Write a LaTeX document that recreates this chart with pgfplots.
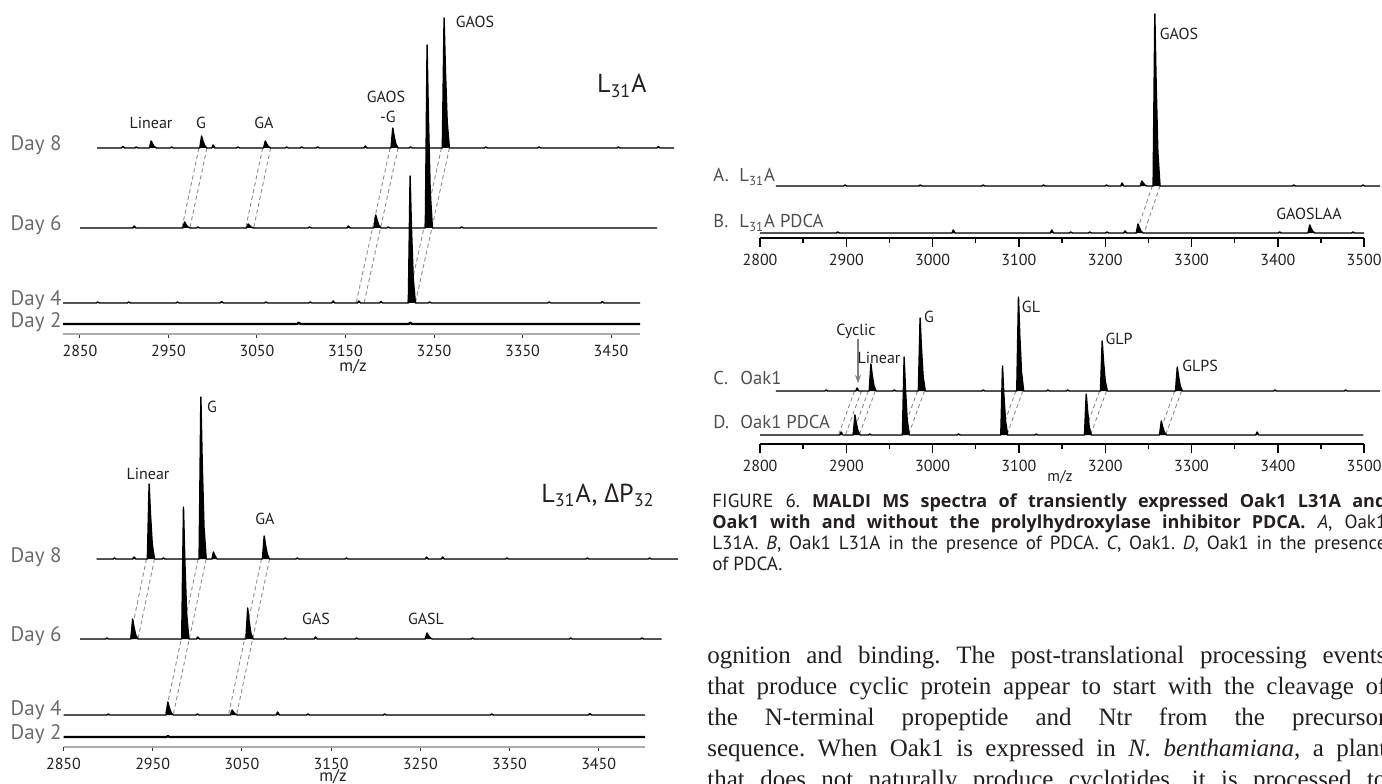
\documentclass[border=0pt]{standalone}
\usepackage{fontspec}
\setmainfont{Liberation Serif}
\setsansfont{PT Sans}
\newfontfamily\grk{Open Sans}
\newfontfamily\capbf{Open Sans}
\usepackage{pgfplots}
\pgfplotsset{compat=1.18}
\usetikzlibrary{arrows.meta}
\definecolor{daygray}{HTML}{6B6B6B}
\definecolor{labgray}{HTML}{4F4F4F}
\definecolor{guidegray}{HTML}{8C8C8C}
\definecolor{ink}{HTML}{231F20}
\frenchspacing

\pgfplotsset{
  spec/.style={clip=false, anchor=south west, hide y axis, axis x line*=bottom,
    ymin=0, ymax=10, y=0.5pt, enlargelimits=false, xtick align=outside,
    /pgf/number format/1000 sep={}, /pgf/number format/assume math mode=true,
    xticklabel style={font=\sffamily\fontsize{8}{9}\selectfont, text=ink}},
  leftax/.style={spec, x axis line style={gray!65, line width=1.3pt},
    major tick length=2pt, xtick style={black!80, line width=0.5pt},
    xtick={2850,2950,...,3450}, xticklabel style={yshift=0pt}},
  rightax/.style={spec, x axis line style={black, line width=0.7pt},
    major tick length=4.5pt, minor tick length=2.5pt, xtick style={black, line width=0.7pt},
    xmin=2800, xmax=3500, x=0.4315pt,
    xtick={2800,2900,...,3500}, minor xtick={2850,2950,...,3450}},
  trace/.style={fill=black, draw=black, line width=0.7pt, line join=round, mark=none},
  guide/.style={draw=guidegray, line width=0.45pt, dash pattern=on 2pt off 1.5pt,
    mark=none, unbounded coords=jump},
  offs/.style 2 args={x filter/.expression={x+#1}, y filter/.expression={y+#2}},
}

\begin{document}
\begin{tikzpicture}
\useasboundingbox (0,0) rectangle (691pt,391.5pt);

% ---------- left top: L31A ----------
\begin{axis}[leftax, at={(31.5pt,224.5pt)}, xmin=2830.8, xmax=3482.8, x=0.4425pt]
\addplot[guide] coordinates {(2984.4,186)(2965.2,106)(2965.2,nan)(2993.4,186)(2974.2,106)(2974.2,nan)
  (3056.4,186)(3037.2,106)(3037.2,nan)(3065.4,186)(3046.2,106)(3046.2,nan)
  (3200.4,186)(3162,31)(3162,nan)(3209.4,186)(3171,31)(3171,nan)
  (3258.4,186)(3220,31)(3220,nan)(3267.4,186)(3229,31)};
% Day 8
\addplot[trace, offs={38.4}{186}] coordinates {(2831,0)
  (2858.5,0)(2860,1.5)(2862,0) (2873.5,0)(2875,1)(2877,0)
  (2890,0)(2892,7)(2893.5,4.2)(2895.5,1.4)(2898,0)
  (2913.5,0)(2915,1)(2917,0)
  (2947,0)(2949,12)(2950.5,7.2)(2952.5,2.4)(2955,0)
  (2960.5,0)(2962,3)(2964,0) (2988.5,0)(2990,1)(2992,0)
  (3019,0)(3021,7)(3022.5,4.2)(3024.5,1.4)(3027,0)
  (3043.5,0)(3045,1)(3047,0) (3060.5,0)(3062,1)(3064,0) (3078.5,0)(3080,1)(3082,0)
  (3132.5,0)(3134,2)(3136,0)
  (3163,0)(3165,20)(3166.5,12)(3168.5,4)(3171,0)
  (3183.5,0)(3185,1)(3187,0)
  (3221,0)(3223,130)(3224.5,78)(3226.5,26)(3229,0)
  (3268.5,0)(3270,1)(3272,0) (3328.5,0)(3330,1)(3332,0) (3418.5,0)(3420,1)(3422,0)
  (3463.5,0)(3465,1.5)(3467,0) (3483,0)};
% Day 6
\addplot[trace, offs={19.2}{106}] coordinates {(2831,0)
  (2890.5,0)(2892,2)(2894,0)
  (2947,0)(2949,6)(2950.5,3.6)(2952.5,1.2)(2955,0)
  (2962.5,0)(2964,1)(2966,0)
  (3019,0)(3021,4)(3022.5,2.4)(3024.5,0.8)(3027,0)
  (3088.5,0)(3090,1)(3092,0) (3132.5,0)(3134,2)(3136,0)
  (3163,0)(3165,13)(3166.5,7.8)(3168.5,2.6)(3171,0)
  (3177.5,0)(3179,1)(3181,0)
  (3221,0)(3223,183)(3224.5,110)(3226.5,37)(3229,0)
  (3260.5,0)(3262,1)(3264,0) (3483,0)};
% Day 4
\addplot[trace, offs={0}{31}] coordinates {(2831,0)
  (2868.5,0)(2870,1)(2872,0) (2903.5,0)(2905,1)(2907,0) (2958.5,0)(2960,1)(2962,0)
  (3008.5,0)(3010,1.5)(3012,0) (3058.5,0)(3060,1)(3062,0) (3108.5,0)(3110,1)(3112,0)
  (3134.5,0)(3136,2)(3138,0) (3163.5,0)(3165,2)(3167,0) (3188.5,0)(3190,1.5)(3192,0)
  (3221,0)(3223,127)(3224.5,76)(3226.5,25)(3229,0)
  (3243.5,0)(3245,1)(3247,0) (3378.5,0)(3380,1)(3382,0) (3438.5,0)(3440,1.5)(3442,0)
  (3483,0)};
% Day 2
\addplot[trace, line width=1.1pt, offs={0}{10}] coordinates {(2831,0)
  (3095.5,0)(3097,1.5)(3099,0) (3221.5,0)(3223,1.5)(3225,0) (3483,0)};
\end{axis}

% ---------- left bottom: L31A, dP32 ----------
\begin{axis}[leftax, at={(31.75pt,18pt)}, xmin=2850, xmax=3502, x=0.446pt]
\addplot[guide] coordinates {(2943,188)(2924.5,108)(2924.5,nan)(2952,188)(2933.5,108)(2933.5,nan)
  (3001,188)(2964,32)(2964,nan)(3010,188)(2973,32)(2973,nan)
  (3072,188)(3035,32)(3035,nan)(3081,188)(3044,32)};
% Day 8
\addplot[trace, offs={37}{188}] coordinates {(2850,0)
  (2868.5,0)(2870,1)(2872,0) (2890.5,0)(2892,2)(2894,0)
  (2907,0)(2909,75)(2910.5,45)(2912.5,15)(2915,0)
  (2923.5,0)(2925,1)(2927,0)
  (2965,0)(2967,162)(2968.5,97)(2970.5,32)(2973,0)
  (2979.5,0)(2981,7)(2983,3)(2985,0)
  (3036,0)(3038,23)(3039.5,14)(3041.5,4.6)(3044,0)
  (3073.5,0)(3075,1)(3077,0) (3128.5,0)(3130,1)(3132,0)
  (3218.5,0)(3220,2)(3222,0) (3236.5,0)(3238,2)(3240,0)
  (3308.5,0)(3310,1)(3312,0) (3398.5,0)(3400,1)(3402,0) (3468.5,0)(3470,1)(3472,0)
  (3502,0)};
% Day 6
\addplot[trace, offs={18.5}{108}] coordinates {(2850,0)
  (2878.5,0)(2880,1)(2882,0)
  (2907,0)(2909,20)(2910.5,12)(2912.5,4)(2915,0)
  (2964,0)(2966,132)(2967.5,79)(2969.5,26)(2972,0)
  (2980.5,0)(2982,2)(2984,0)
  (3036,0)(3038,31)(3039.5,18.6)(3041.5,6.2)(3044,0)
  (3078.5,0)(3080,1)(3082,0) (3112.5,0)(3114,2)(3116,0) (3158.5,0)(3160,1)(3162,0)
  (3237,0)(3239,6)(3240.5,3.6)(3242.5,1.2)(3245,0)
  (3288.5,0)(3290,1)(3292,0) (3398.5,0)(3400,1)(3402,0) (3478.5,0)(3480,1)(3482,0)
  (3502,0)};
% Day 4
\addplot[trace, offs={0}{32}] coordinates {(2850,0)
  (2898.5,0)(2900,1)(2902,0)
  (2965,0)(2967,13)(2968.5,7.8)(2970.5,2.6)(2973,0)
  (2998.5,0)(3000,1)(3002,0)
  (3037,0)(3039,5)(3040.5,3)(3042.5,1)(3045,0)
  (3088.5,0)(3090,3)(3092,0) (3122.5,0)(3124,1)(3126,0) (3208.5,0)(3210,1)(3212,0)
  (3328.5,0)(3330,1)(3332,0) (3438.5,0)(3440,1.5)(3442,0) (3502,0)};
% Day 2
\addplot[trace, line width=1.1pt, offs={0}{10}] coordinates {(2850,0)
  (2965.5,0)(2967,1)(2969,0) (3502,0)};
\end{axis}

% ---------- right top: A / B ----------
\begin{axis}[rightax, at={(380pt,272.5pt)}]
\addplot[guide] coordinates {(3254.5,52)(3236,5)(3236,nan)(3263.5,52)(3245,5)};
% A
\addplot[trace, offs={18.5}{52}] coordinates {(2800,0)
  (2878.5,0)(2880,1)(2882,0) (2965.5,0)(2967,1)(2969,0) (3038.5,0)(3040,1)(3042,0)
  (3108.5,0)(3110,1)(3112,0) (3181.5,0)(3183,1)(3185,0) (3199.5,0)(3201,3)(3203,0)
  (3222,0)(3224,5)(3225.5,3)(3227.5,1)(3230,0)
  (3237,0)(3239,172)(3240.5,103)(3242.5,34)(3245,0)
  (3398.5,0)(3400,1)(3402,0) (3478.5,0)(3480,1)(3482,0) (3500,0)};
% B
\addplot[trace, offs={0}{5}] coordinates {(2800,0)
  (2888.5,0)(2890,1)(2892,0) (3022.5,0)(3024,3)(3026,0) (3136.5,0)(3138,3)(3140,0)
  (3158.5,0)(3160,1)(3162,0) (3180.5,0)(3182,1)(3184,0) (3200.5,0)(3202,1)(3204,0)
  (3221.5,0)(3223,2)(3225,0)
  (3236,0)(3238,9)(3239.5,5.4)(3241.5,1.8)(3244,0)
  (3400.5,0)(3402,1)(3404,0)
  (3435,0)(3437,8)(3438.5,4.8)(3440.5,1.6)(3443,0)
  (3485.5,0)(3487,1)(3489,0) (3500,0)};
\end{axis}

% ---------- right bottom: C / D ----------
\begin{axis}[rightax, at={(380pt,169.5pt)}]
\addplot[guide] coordinates {(2909.5,53)(2891,9)(2891,nan)(2917.5,53)(2899,9)(2899,nan)
  (2925.5,53)(2907,9)(2907,nan)(2933.5,53)(2915,9)(2915,nan)
  (2982.5,53)(2964,9)(2964,nan)(2990.5,53)(2972,9)(2972,nan)
  (3096.5,53)(3078,9)(3078,nan)(3104.5,53)(3086,9)(3086,nan)
  (3193.5,53)(3175,9)(3175,nan)(3201.5,53)(3183,9)(3183,nan)
  (3280.5,53)(3262,9)(3262,nan)(3288.5,53)(3270,9)};
% C
\addplot[trace, offs={18.5}{53}] coordinates {(2800,0)
  (2856.5,0)(2858,1)(2860,0) (2892.5,0)(2894,3)(2896,0)
  (2908,0)(2910,27)(2911.5,16.2)(2913.5,5.4)(2916,0)
  (2935.5,0)(2937,1)(2939,0)
  (2965,0)(2967,73)(2968.5,44)(2970.5,14.6)(2973,0)
  (3038.5,0)(3040,1)(3042,0)
  (3079,0)(3081,94)(3082.5,56)(3084.5,19)(3087,0)
  (3113.5,0)(3115,1)(3117,0) (3136.5,0)(3138,1)(3140,0)
  (3176,0)(3178,50)(3179.5,30)(3181.5,10)(3184,0)
  (3263,0)(3265,24)(3266.5,14.4)(3268.5,4.8)(3271,0)
  (3376.5,0)(3378,1)(3380,0) (3458.5,0)(3460,1)(3462,0) (3500,0)};
% D
\addplot[trace, offs={0}{9}] coordinates {(2800,0)
  (2892.5,0)(2894,3)(2896,0)
  (2908,0)(2910,20)(2911.5,12)(2913.5,4)(2916,0)
  (2925.5,0)(2927,1)(2929,0)
  (2965,0)(2967,78)(2968.5,47)(2970.5,15.6)(2973,0)
  (3028.5,0)(3030,1)(3032,0)
  (3079,0)(3081,69)(3082.5,41)(3084.5,14)(3087,0)
  (3118.5,0)(3120,1)(3122,0)
  (3176,0)(3178,41)(3179.5,25)(3181.5,8)(3184,0)
  (3263,0)(3265,14)(3266.5,8.4)(3268.5,2.8)(3271,0)
  (3374.5,0)(3376,3)(3378,0) (3499,0)};
\end{axis}

% ---------- text, in pixel units of the page ----------
\begin{scope}[x=0.5pt, y=-0.5pt, yshift=391.5pt,
  daylbl/.style={anchor=base east, inner sep=0pt, text=daygray, font=\sffamily\fontsize{10.5}{12}\selectfont},
  pklbl/.style={inner sep=0pt, text=ink, font=\sffamily\fontsize{8}{9}\selectfont},
  panlbl/.style={anchor=base west, inner sep=0pt, text=labgray, font=\sffamily\fontsize{9.3}{10}\selectfont},
  ttllbl/.style={anchor=base east, inner sep=0pt, text=ink, font=\sffamily\fontsize{13}{15}\selectfont},
  mzlbl/.style={inner sep=0pt, text=ink, font=\sffamily\fontsize{8.5}{9}\selectfont},
  captxt/.style={anchor=base west, inner sep=0pt, text=ink, font=\sffamily\fontsize{9.5}{10.5}\selectfont},
  bodytxt/.style={anchor=base west, inner sep=0pt, text=ink, font=\fontsize{12.5}{15.5}\selectfont}]
% left top
\node[daylbl] at (62,151) {Day 8};
\node[daylbl] at (62,231) {Day 6};
\node[daylbl] at (62,306) {Day 4};
\node[daylbl] at (62,328) {Day 2};
\node[ttllbl] at (647,93) {L\textsubscript{31}A};
\node[pklbl] at (151,123) {Linear};
\node[pklbl] at (201,123) {G};
\node[pklbl] at (264,123) {GA};
\node[pklbl] at (386,97) {GAOS};
\node[pklbl] at (388,117) {-G};
\node[pklbl] at (475,22) {GAOS};
\node[mzlbl] at (353,367) {m/z};
% left bottom
\node[daylbl] at (62,562) {Day 8};
\node[daylbl] at (62,641) {Day 6};
\node[daylbl] at (62,715) {Day 4};
\node[daylbl] at (62,739) {Day 2};
\node[ttllbl] at (655,502) {L\textsubscript{31}A, {\grk Δ}P\textsubscript{32}};
\node[pklbl] at (148,474) {Linear};
\node[pklbl] at (212,407) {G};
\node[pklbl] at (265,519) {GA};
\node[pklbl] at (316,619) {GAS};
\node[pklbl] at (426,619) {GASL};
\node[mzlbl] at (333,777) {m/z};
% right top
\node[panlbl] at (713,182) {A.};
\node[panlbl] at (739,182) {L\textsubscript{31}A};
\node[panlbl] at (713,228) {B.};
\node[panlbl] at (739,228) {L\textsubscript{31}A PDCA};
\node[pklbl] at (1179,34) {GAOS};
\node[pklbl] at (1309,214) {GAOSLAA};
% right bottom
\node[panlbl] at (713,385) {C.};
\node[panlbl] at (740,385) {Oak1};
\node[panlbl] at (713,428) {D.};
\node[panlbl] at (740,428) {Oak1 PDCA};
\node[pklbl] at (856,331) {Cyclic};
\draw[-{Stealth[length=4pt,width=3pt]}, draw=gray, line width=0.6pt] (858,339) -- (858,383);
\node[pklbl] at (879,358) {Linear};
\node[pklbl] at (929,317) {G};
\node[pklbl] at (1031,307) {GL};
\node[pklbl] at (1119,339) {GLP};
\node[pklbl] at (1200,366) {GLPS};
\node[mzlbl, font=\sffamily\fontsize{7.8}{8}\selectfont] at (1060,477) {m/z};
% caption
\node[captxt] at (712,507) {\hbox to 337pt{FIGURE 6. {\capbf\bfseries\fontsize{9}{10}\selectfont MALDI MS spectra of transiently expressed Oak1 L31A and}}};
\node[captxt] at (712,528) {\hbox to 337pt{{\capbf\bfseries\fontsize{9}{10}\selectfont Oak1 with and without the prolylhydroxylase inhibitor PDCA.} \textit{A}, Oak1}};
\node[captxt] at (712,549) {\hbox to 337pt{L31A. \textit{B}, Oak1 L31A in the presence of PDCA. \textit{C}, Oak1. \textit{D}, Oak1 in the presence}};
\node[captxt] at (712,570) {of PDCA.};
% body text
\node[bodytxt] at (707,663) {\hbox to 339.5pt{ognition and binding. The post-translational processing events}};
\node[bodytxt] at (707,694) {\hbox to 339.5pt{that produce cyclic protein appear to start with the cleavage of}};
\node[bodytxt] at (707,725) {\hbox to 339.5pt{the N-terminal propeptide and Ntr from the precursor}};
\node[bodytxt] at (707,756) {\hbox to 339.5pt{sequence. When Oak1 is expressed in \textit{N. benthamiana}, a plant}};
\node[bodytxt] at (707,787) {\hbox to 339.5pt{that does not naturally produce cyclotides, it is processed to}};
\end{scope}
\end{tikzpicture}
\end{document}
